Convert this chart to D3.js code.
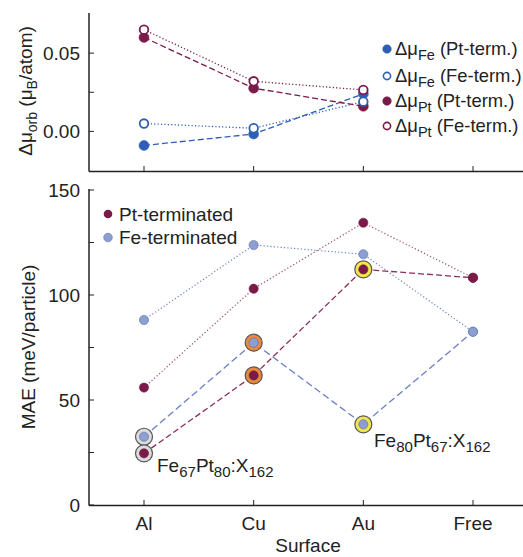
<!DOCTYPE html>
<html><head><meta charset="utf-8">
<script src="https://cdn.jsdelivr.net/npm/d3@7/dist/d3.min.js"></script>
<style>body{margin:0;background:#fff}text{font-family:"Liberation Sans",Arial,sans-serif;fill:#222}</style>
</head><body><svg id="c" width="523" height="557"></svg>
<script>
const surfaces = ["Al","Cu","Au","Free"];
// Top panel: orbital moment differences (Al, Cu, Au)
const dFePt = [-0.009, -0.0017, 0.024];
const dFeFe = [0.005, 0.002, 0.019];
const dPtPt = [0.060, 0.0276, 0.016];
const dPtFe = [0.065, 0.032, 0.0265];
const topTicks = [0, 0.05];
const topMinor = [0.025];
// Bottom panel: MAE
const maePtDot = [55.9, 103, 134.4, 108.2];
const maeFeDot = [88.1, 123.8, 119.4, 82.5];
const maePtX = [24.6, 61.7, 112.2, 108.2];
const maeFeX = [32.5, 77.3, 38.4, 82.5];
const botTicks = [0, 50, 100, 150];
const botMinor = [25, 75, 125];
// highlight rings: [surface index, series, ring colour]
const rings = [[0,"Fe","#dcdcdc"],[0,"Pt","#dcdcdc"],[1,"Fe","#e8893c"],[1,"Pt","#e8893c"],[2,"Pt","#f3e64a"],[2,"Fe","#f3e64a"]];

const FS = 19, SFS = 14;
const blue = "#2f5fb5", maroon = "#7a1a48", lblue = "#8c9fd0", lbluedk="#5a6fb0";
const svg = d3.select("#c");
const x = d3.scalePoint().domain(surfaces).range([144, 473]);
const axX = 89;

// ---------- top panel
const yT = d3.scaleLinear().domain([-0.025, 0.075]).range([170.5, 14]);
const gT = svg.append("g");
gT.append("line").attr("x1",axX).attr("x2",axX).attr("y1",13).attr("y2",171.5).attr("stroke","#222").attr("stroke-width",1.5);
gT.append("line").attr("x1",axX).attr("x2",523).attr("y1",171.5).attr("y2",171.5).attr("stroke","#222").attr("stroke-width",1.5);
topTicks.forEach(t=>{
  gT.append("line").attr("x1",axX).attr("x2",axX+5).attr("y1",yT(t)).attr("y2",yT(t)).attr("stroke","#222");
  gT.append("text").attr("x",axX-9).attr("y",yT(t)).attr("dy","0.36em").attr("text-anchor","end").attr("font-size",FS).text(d3.format(".2f")(t));
});
topMinor.forEach(t=>gT.append("line").attr("x1",axX).attr("x2",axX+5).attr("y1",yT(t)).attr("y2",yT(t)).attr("stroke","#222"));
surfaces.forEach(s=>gT.append("line").attr("x1",x(s)).attr("x2",x(s)).attr("y1",171.5).attr("y2",166).attr("stroke","#222"));
const topS = surfaces.slice(0,3);
function series(g, yS, vals, xs, color, dash, w){
  const line = d3.line().x((d,i)=>x(xs[i])).y(d=>yS(d));
  g.append("path").attr("d",line(vals)).attr("fill","none").attr("stroke",color).attr("stroke-width",w||1.3).attr("stroke-dasharray",dash);
}
series(gT,yT,dFeFe,topS,blue,"1.2,2.2");
series(gT,yT,dPtFe,topS,maroon,"1.2,2.2");
series(gT,yT,dFePt,topS,blue,"6,3");
series(gT,yT,dPtPt,topS,maroon,"6,3");
function pts(g,yS,vals,xs,color,open,r){
  g.selectAll(null).data(vals).enter().append("circle").attr("cx",(d,i)=>x(xs[i])).attr("cy",d=>yS(d)).attr("r",r)
   .attr("fill",open?"#fff":color).attr("stroke",color).attr("stroke-width",open?1.8:0.5);
}
pts(gT,yT,dFePt,topS,blue,false,5);
pts(gT,yT,dPtPt,topS,maroon,false,5);
pts(gT,yT,dFeFe,topS,blue,true,4.3);
pts(gT,yT,dPtFe,topS,maroon,true,4.3);
// top y label
const tl = gT.append("text").attr("transform","translate(32,91) rotate(-90)").attr("text-anchor","middle").attr("font-size",FS);
tl.append("tspan").text("Δμ");
tl.append("tspan").attr("font-size",SFS).attr("dy",5).text("orb");
tl.append("tspan").attr("dy",-5).text(" (μ");
tl.append("tspan").attr("font-size",SFS).attr("dy",5).text("B");
tl.append("tspan").attr("dy",-5).text("/atom)");
// top legend
const legT = [["Fe","(Pt-term.)",blue,false],["Fe","(Fe-term.)",blue,true],["Pt","(Pt-term.)",maroon,false],["Pt","(Fe-term.)",maroon,true]];
const legY = [49, 76, 101, 126];
legT.forEach((d,i)=>{
  gT.append("circle").attr("cx",387).attr("cy",legY[i]).attr("r",d[3]?3.6:4.3).attr("fill",d[3]?"#fff":d[2]).attr("stroke",d[2]).attr("stroke-width",d[3]?1.6:0.5);
  const t = gT.append("text").attr("x",395).attr("y",legY[i]+6).attr("font-size",18.4);
  t.append("tspan").text("Δμ");
  t.append("tspan").attr("font-size",SFS+0.5).attr("dy",5).text(d[0]);
  t.append("tspan").attr("dy",-5).text(" "+d[1]);
});

// ---------- bottom panel
const yB = d3.scaleLinear().domain([0,150]).range([505,190]);
const gB = svg.append("g");
gB.append("line").attr("x1",axX).attr("x2",axX).attr("y1",189).attr("y2",505.5).attr("stroke","#222").attr("stroke-width",1.5);
gB.append("line").attr("x1",axX).attr("x2",523).attr("y1",505.5).attr("y2",505.5).attr("stroke","#222").attr("stroke-width",1.5);
botTicks.forEach(t=>{
  gB.append("line").attr("x1",axX).attr("x2",axX+5).attr("y1",yB(t)).attr("y2",yB(t)).attr("stroke","#222");
  gB.append("text").attr("x",axX-9).attr("y",yB(t)).attr("dy","0.36em").attr("text-anchor","end").attr("font-size",FS).text(t);
});
botMinor.forEach(t=>gB.append("line").attr("x1",axX).attr("x2",axX+5).attr("y1",yB(t)).attr("y2",yB(t)).attr("stroke","#222"));
surfaces.forEach(s=>{
  gB.append("line").attr("x1",x(s)).attr("x2",x(s)).attr("y1",505.5).attr("y2",500).attr("stroke","#222");
  gB.append("text").attr("x",x(s)).attr("y",530).attr("text-anchor","middle").attr("font-size",FS).text(s);
});
gB.append("text").attr("x",308).attr("y",552).attr("text-anchor","middle").attr("font-size",FS).text("Surface");
gB.append("text").attr("transform","translate(35,347) rotate(-90)").attr("text-anchor","middle").attr("font-size",FS).text("MAE (meV/particle)");

series(gB,yB,maePtDot,surfaces,"#9a4a72","1.2,2.2",1.2);
series(gB,yB,maeFeDot,surfaces,"#6f80c0","1.2,2.2",1.2);
series(gB,yB,maePtX,surfaces,"#8a2f5a","6,3",1.3);
series(gB,yB,maeFeX,surfaces,"#6b7fc4","7,3.5",1.3);
// rings
rings.forEach(r=>{
  const v = r[1]==="Fe"?maeFeX[r[0]]:maePtX[r[0]];
  gB.append("circle").attr("cx",x(surfaces[r[0]])).attr("cy",yB(v)).attr("r",8.5).attr("fill",r[2]).attr("stroke","#555").attr("stroke-width",1.2);
});
function bpts(vals,color,stroke){
  gB.selectAll(null).data(vals).enter().append("circle").attr("cx",(d,i)=>x(surfaces[i])).attr("cy",d=>yB(d)).attr("r",4.6)
   .attr("fill",color).attr("stroke",stroke).attr("stroke-width",0.6);
}
bpts(maePtDot,maroon,maroon);
bpts(maeFeDot,lblue,lbluedk);
bpts(maePtX,maroon,maroon);
bpts(maeFeX,lblue,lbluedk);
// legend
gB.append("circle").attr("cx",108).attr("cy",214).attr("r",4.3).attr("fill",maroon);
gB.append("text").attr("x",119).attr("y",220.5).attr("font-size",FS).text("Pt-terminated");
gB.append("circle").attr("cx",108).attr("cy",237.5).attr("r",4.3).attr("fill",lblue).attr("stroke",lbluedk).attr("stroke-width",0.6);
gB.append("text").attr("x",119).attr("y",244).attr("font-size",FS).text("Fe-terminated");
// annotations
function anno(xp,yp,a,an,b,bn){
  const t = gB.append("text").attr("x",xp).attr("y",yp).attr("font-size",FS);
  t.append("tspan").text(a);
  t.append("tspan").attr("font-size",SFS+1).attr("dy",5).text(an);
  t.append("tspan").attr("dy",-5).text(b);
  t.append("tspan").attr("font-size",SFS+1).attr("dy",5).text(bn);
  t.append("tspan").attr("dy",-5).text(":X");
  t.append("tspan").attr("font-size",SFS+1).attr("dy",5).text("162");
}
anno(157,472,"Fe","67","Pt","80");
anno(374,447,"Fe","80","Pt","67");
</script></body></html>
